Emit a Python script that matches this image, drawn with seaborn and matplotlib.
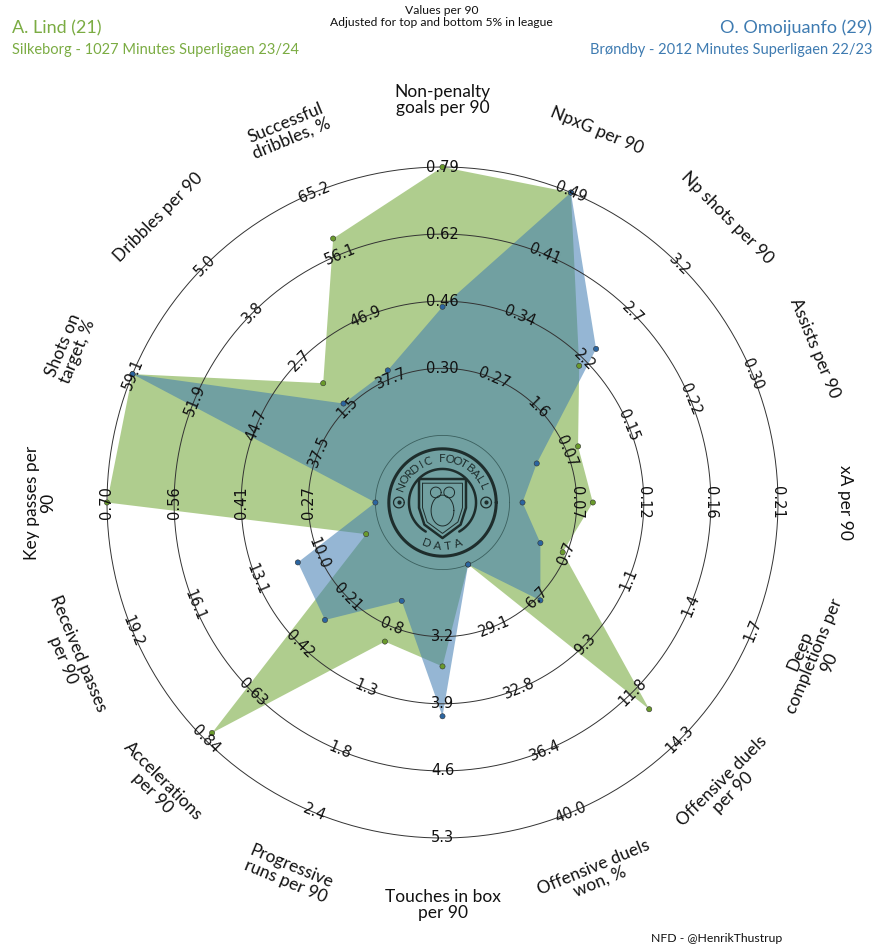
import numpy as np
import pandas as pd
import matplotlib.pyplot as plt
import seaborn as sns

# Radar data (values per 90, ranges adjusted for top/bottom 5% in league)
params = [
    "Non-penalty\ngoals per 90", "NpxG per 90", "Np shots per 90", "Assists per 90",
    "xA per 90", "Deep\ncompletions per\n90", "Offensive duels\nper 90",
    "Offensive duels\nwon, %", "Touches in box\nper 90", "Progressive\nruns per 90",
    "Accelerations\nper 90", "Received passes\nper 90", "Key passes per\n90",
    "Shots on\ntarget, %", "Dribbles per 90", "Successful\ndribbles, %",
]
ring_labels = [
    ["0.30", "0.46", "0.62", "0.79"], ["0.27", "0.34", "0.41", "0.49"],
    ["1.6", "2.2", "2.7", "3.2"], ["0.07", "0.15", "0.22", "0.30"],
    ["0.07", "0.12", "0.16", "0.21"], ["0.7", "1.1", "1.4", "1.7"],
    ["6.7", "9.3", "11.8", "14.3"], ["29.1", "32.8", "36.4", "40.0"],
    ["3.2", "3.9", "4.6", "5.3"], ["0.8", "1.3", "1.8", "2.4"],
    ["0.21", "0.42", "0.63", "0.84"], ["10.0", "13.1", "16.1", "19.2"],
    ["0.27", "0.41", "0.56", "0.70"], ["37.5", "44.7", "51.9", "59.1"],
    ["1.5", "2.7", "3.8", "5.0"], ["37.7", "46.9", "56.1", "65.2"],
]
lows = [0.137, 0.197, 1.067, 0.0, 0.023, 0.367, 4.167, 25.47,
        2.5, 0.267, 0.0, 6.93, 0.127, 30.3, 0.333, 28.53]
highs = [0.79, 0.49, 3.2, 0.30, 0.21, 1.7, 14.3, 40.0,
         5.3, 2.4, 0.84, 19.2, 0.70, 59.1, 5.0, 65.2]
lind = [0.79, 0.49, 2.07, 0.089, 0.081, 0.68, 12.67, 25.0,
        3.51, 0.93, 0.81, 7.64, 0.70, 59.1, 2.10, 58.4]
omoijuanfo = [0.45, 0.49, 2.26, 0.039, 0.032, 0.56, 6.86, 25.0,
              4.03, 0.58, 0.31, 11.02, 0.12, 59.1, 1.60, 38.9]

green = "#7bac43"
blue = "#3e7bb1"

sns.set_theme(style="white")
plt.rcParams["font.family"] = ["Lato", "DejaVu Sans"]

W, H = 883, 950
S = 67.1           # pixels per ring
cx, cy = 442.5, 502.5

fig = plt.figure(figsize=(W / 100, H / 100), dpi=100)
ax = fig.add_axes([0, 0, 1, 1])
ax.set_xlim(-cx / S, (W - cx) / S)
ax.set_ylim(-(H - cy) / S, cy / S)
ax.axis("off")

n = len(params)
theta = np.deg2rad(90 - 360 / n * np.arange(n))


def radius(vals):
    frac = (np.array(vals) - np.array(lows)) / (np.array(highs) - np.array(lows))
    return 1 + 4 * np.clip(frac, 0, 1)


def rot(t):
    d = (np.rad2deg(t) + 180) % 360 - 180
    return d + 90 if -180 < d < 0 else d - 90


# rings
tt = np.linspace(0, 2 * np.pi, 400)
for r in [2, 3, 4, 5]:
    ax.plot(r * np.cos(tt), r * np.sin(tt), color="#333333", lw=0.7, zorder=4)
ax.plot(np.cos(tt), np.sin(tt), color="#2d4f4d", lw=0.6, alpha=0.8, zorder=4)

# polygons
rows = []
for name, vals, col, alpha in [("A. Lind", lind, green, 0.6),
                               ("O. Omoijuanfo", omoijuanfo, blue, 0.55)]:
    r = radius(vals)
    x, y = r * np.cos(theta), r * np.sin(theta)
    ax.fill(x, y, color=col, alpha=alpha, lw=0, zorder=2)
    rows.append(pd.DataFrame({"x": x, "y": y, "player": name}))
pts = pd.concat(rows)
sns.scatterplot(data=pts, x="x", y="y", hue="player",
                palette={"A. Lind": "#6a9a2c", "O. Omoijuanfo": "#2b65a0"},
                s=14, edgecolor="#333333", linewidth=0.4, legend=False,
                ax=ax, zorder=6)

# range labels
for i, t in enumerate(theta):
    for k, lab in enumerate(ring_labels[i]):
        r = k + 2
        ax.text(r * np.cos(t), r * np.sin(t), lab, ha="center", va="center",
                rotation=rot(t), rotation_mode="anchor", fontsize=10.5,
                family="DejaVu Sans", color="#111111", zorder=7)

# parameter labels
for i, t in enumerate(theta):
    ax.text(6.0 * np.cos(t), 6.0 * np.sin(t), params[i], ha="center",
            va="center", multialignment="center", rotation=rot(t),
            rotation_mode="anchor", fontsize=12.5, color="#111111",
            linespacing=1.0)

# centre logo (simplified)
logo = "#1e2d2c"
ax.plot(0.8 * np.cos(tt), 0.8 * np.sin(tt), color=logo, lw=2.2, zorder=5)
aa = np.deg2rad(np.linspace(-60, 240, 200))
ax.plot(0.5 * np.cos(aa), 0.5 * np.sin(aa), color=logo, lw=1.8, zorder=5)
word = "NORDIC FOOTBALL"
for j, ch in enumerate(word):
    a = np.deg2rad(158 - j * 136 / (len(word) - 1))
    ax.text(0.655 * np.cos(a), 0.655 * np.sin(a), ch, ha="center", va="center",
            rotation=np.rad2deg(a) - 90, fontsize=8.5, color=logo, zorder=5)
for j, ch in enumerate("DATA"):
    a = np.deg2rad(249 + j * 14)
    ax.text(0.655 * np.cos(a), 0.655 * np.sin(a), ch, ha="center", va="center",
            rotation=np.rad2deg(a) + 90, fontsize=8.5, color=logo, zorder=5)
for bx in [-0.65, 0.65]:
    ax.plot(bx + 0.08 * np.cos(tt), 0.08 * np.sin(tt), color=logo, lw=0.9, zorder=5)
    ax.plot(bx, 0, marker="o", ms=2, color=logo, zorder=5)
sx = np.array([-0.35, 0.35, 0.35, 0.27, 0.0, -0.27, -0.35, -0.35])
sy = np.array([0.35, 0.35, -0.08, -0.33, -0.53, -0.33, -0.08, 0.35])
ax.plot(sx, sy, color=logo, lw=1.8, zorder=5)
ax.plot(sx * 0.85, sy * 0.85 - 0.01, color=logo, lw=0.7, zorder=5)
for ex in [-0.1, 0.1]:
    ax.plot(ex + 0.08 * np.cos(tt), 0.15 + 0.08 * np.sin(tt), color=logo, lw=0.7, zorder=5)
ax.plot(0.17 * np.cos(tt), -0.12 + 0.23 * np.sin(tt), color=logo, lw=0.7, zorder=5)

# titles
fig.text(12 / W, 1 - 28 / H, "A. Lind (21)", color=green, fontsize=13,
         ha="left", va="center")
fig.text(12 / W, 1 - 50 / H, "Silkeborg - 1027 Minutes Superligaen 23/24",
         color=green, fontsize=10.5, ha="left", va="center")
fig.text(1 - 11 / W, 1 - 28 / H, "O. Omoijuanfo (29)", color=blue,
         fontsize=13, ha="right", va="center")
fig.text(1 - 11 / W, 1 - 50 / H, "Brøndby - 2012 Minutes Superligaen 22/23",
         color=blue, fontsize=10.5, ha="right", va="center")
fig.text(0.5, 1 - 10 / H, "Values per 90", fontsize=8.7, ha="center",
         va="center", color="#111111")
fig.text(0.5, 1 - 22 / H, "Adjusted for top and bottom 5% in league",
         fontsize=8.7, ha="center", va="center", color="#111111")
fig.text(782 / W, 1 - 938 / H, "NFD - @HenrikThustrup", fontsize=8.8,
         ha="right", va="center", color="#111111")

fig.savefig("out.png", dpi=100)
